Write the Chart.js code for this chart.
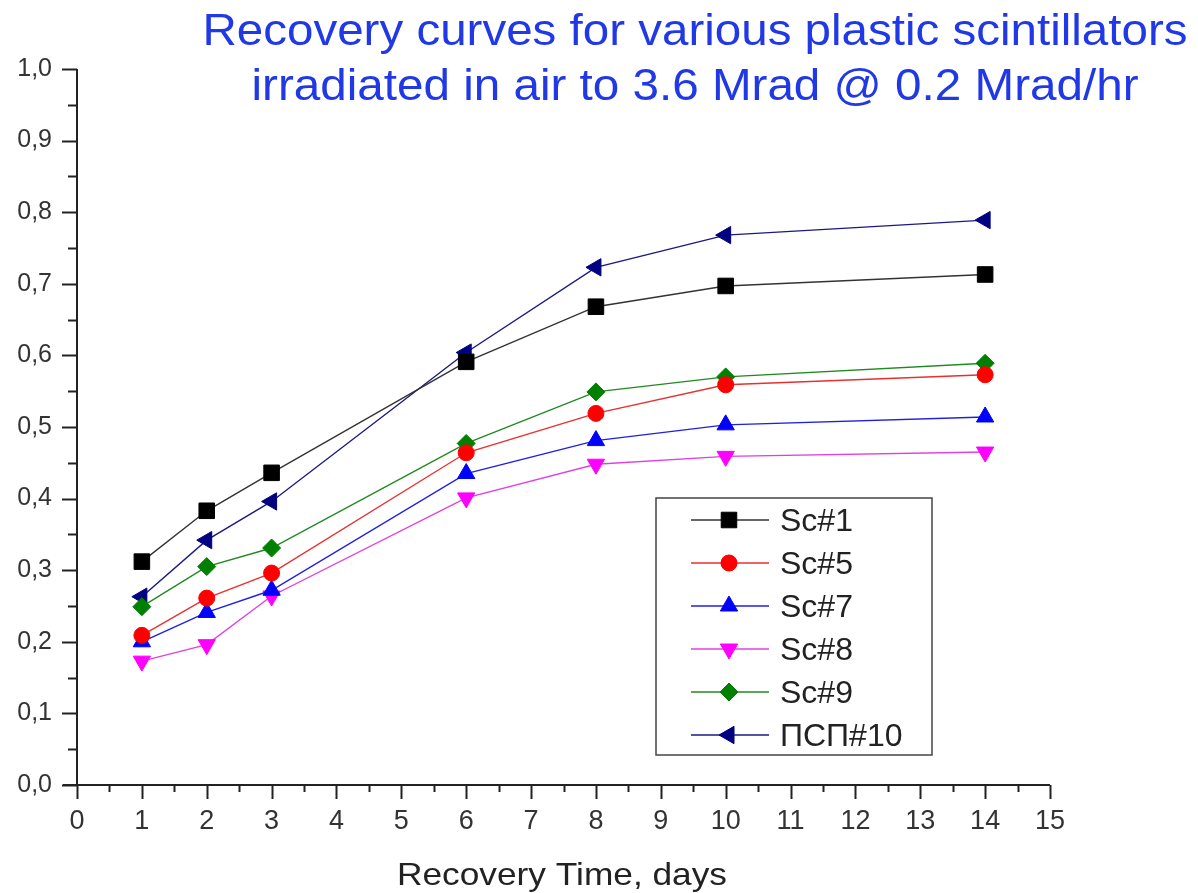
<!DOCTYPE html>
<html>
<head>
<meta charset="utf-8">
<script src="https://cdn.jsdelivr.net/npm/chart.js@4/dist/chart.umd.min.js"></script>
<style>
html,body{margin:0;padding:0;background:#fff;}
#wrap{width:1198px;height:893px;position:relative;}
</style>
</head>
<body>
<div id="wrap"><canvas id="c" width="1198" height="893"></canvas></div>
<script>
const days = [1, 2, 3, 6, 8, 10, 14];
const sc1 = [0.312, 0.383, 0.436, 0.591, 0.668, 0.697, 0.713];
const sc5 = [0.209, 0.261, 0.296, 0.464, 0.519, 0.559, 0.573];
const sc7 = [0.200, 0.241, 0.272, 0.435, 0.481, 0.503, 0.514];
const sc8 = [0.173, 0.196, 0.264, 0.401, 0.448, 0.459, 0.465];
const sc9 = [0.249, 0.305, 0.331, 0.477, 0.549, 0.570, 0.589];
const psp10 = [0.263, 0.342, 0.396, 0.604, 0.723, 0.768, 0.789];
const seriesNames = ['Sc#1', 'Sc#5', 'Sc#7', 'Sc#8', 'Sc#9', 'ПСП#10'];
const titleLines = ['Recovery curves for various plastic scintillators', 'irradiated in air to 3.6 Mrad @ 0.2 Mrad/hr'];
const xTitle = 'Recovery Time, days';
const yTicks = [0, 0.1, 0.2, 0.3, 0.4, 0.5, 0.6, 0.7, 0.8, 0.9, 1.0];
const xTicks = [0,1,2,3,4,5,6,7,8,9,10,11,12,13,14,15];

const FONT = '"Liberation Sans", Arial, Helvetica, sans-serif';

function mk(name, vals, color, lineColor, style, rot, radius) {
  return {
    label: name,
    data: days.map((d, i) => ({x: d, y: vals[i]})),
    borderColor: lineColor,
    backgroundColor: color,
    pointBackgroundColor: color,
    pointBorderColor: color,
    pointBorderWidth: 1,
    pointStyle: style,
    pointRotation: rot,
    pointRadius: radius,
    pointHoverRadius: radius,
    borderWidth: 1.4,
    tension: 0,
    fill: false
  };
}

const datasets = [
  mk(seriesNames[0], sc1, '#000000', '#333333', 'rect', 0, 11),
  mk(seriesNames[1], sc5, '#ff0000', '#e83030', 'circle', 0, 8),
  mk(seriesNames[2], sc7, '#0000ff', '#2020e0', 'triangle', 0, 10),
  mk(seriesNames[3], sc8, '#ff00ff', '#e040e0', 'triangle', 180, 10),
  mk(seriesNames[4], sc9, '#008000', '#208a20', 'rectRot', 0, 9),
  mk(seriesNames[5], psp10, '#000080', '#1a1a80', 'triangle', 270, 10)
];

const decor = {
  id: 'decor',
  afterDraw(chart) {
    const ctx = chart.ctx;
    const xs = chart.scales.x, ys = chart.scales.y;
    const ca = chart.chartArea;
    ctx.save();
    // axes lines
    ctx.strokeStyle = '#222';
    ctx.lineWidth = 2;
    ctx.beginPath();
    ctx.moveTo(ca.left, ca.top);
    ctx.lineTo(ca.left, ca.bottom);
    ctx.moveTo(ca.left - 14, ca.bottom);
    ctx.lineTo(ca.right, ca.bottom);
    ctx.stroke();
    // y ticks major + minor
    ctx.beginPath();
    for (let v = 0; v <= 20; v++) {
      const y = Math.round(ys.getPixelForValue(v * 0.05)) + 0.5;
      const len = (v % 2 === 0) ? 15 : 9;
      ctx.moveTo(ca.left - len, y);
      ctx.lineTo(ca.left, y);
    }
    // x ticks
    for (let v = 0; v <= 30; v++) {
      const x = Math.round(xs.getPixelForValue(v * 0.5)) + 0.5;
      const len = (v % 2 === 0) ? 14 : 7;
      ctx.moveTo(x, ca.bottom);
      ctx.lineTo(x, ca.bottom + len);
    }
    ctx.stroke();

    // title
    ctx.fillStyle = '#2038e6';
    ctx.font = '44px ' + FONT;
    ctx.textBaseline = 'alphabetic';
    ctx.textAlign = 'center';
    const targets = [985, 887];
    const bases = [45, 100];
    titleLines.forEach((t, i) => {
      const w = ctx.measureText(t).width;
      const sx = targets[i] / w;
      ctx.save();
      ctx.translate(695, bases[i]);
      ctx.scale(sx, 1);
      ctx.fillText(t, 0, 0);
      ctx.restore();
    });

    // x axis title
    ctx.fillStyle = '#222';
    ctx.font = '32px ' + FONT;
    {
      const w = ctx.measureText(xTitle).width;
      ctx.save();
      ctx.translate(562, 885);
      ctx.scale(330 / w, 1);
      ctx.fillText(xTitle, 0, 0);
      ctx.restore();
    }

    // legend
    const bx = 656, by = 498, bw = 276, bh = 257;
    ctx.fillStyle = '#fff';
    ctx.fillRect(bx, by, bw, bh);
    ctx.strokeStyle = '#444';
    ctx.lineWidth = 1.5;
    ctx.strokeRect(bx, by, bw, bh);
    ctx.textAlign = 'left';
    ctx.textBaseline = 'middle';
    ctx.font = '32px ' + FONT;
    chart.data.datasets.forEach((ds, i) => {
      const cy = 520 + i * 43;
      ctx.strokeStyle = ds.borderColor;
      ctx.lineWidth = 1.4;
      ctx.beginPath();
      ctx.moveTo(691, cy);
      ctx.lineTo(769, cy);
      ctx.stroke();
      ctx.fillStyle = ds.pointBackgroundColor;
      ctx.strokeStyle = ds.pointBorderColor;
      ctx.lineWidth = 1;
      Chart.helpers.drawPoint(ctx, {
        pointStyle: ds.pointStyle,
        rotation: ds.pointRotation,
        radius: ds.pointRadius,
        borderWidth: 1
      }, 729, cy);
      ctx.fillStyle = '#222';
      ctx.fillText(ds.label, 780, cy + 2);
    });
    ctx.restore();
  }
};

new Chart(document.getElementById('c'), {
  type: 'line',
  data: { datasets },
  options: {
    responsive: false,
    animation: false,
    layout: { padding: { top: 69, right: 148, left: 0, bottom: 0 } },
    plugins: { legend: { display: false }, tooltip: { enabled: false }, title: { display: false } },
    scales: {
      x: {
        type: 'linear', min: 0, max: 15,
        afterFit(s) { s.height = 108; },
        afterBuildTicks(s) { s.ticks = xTicks.map(v => ({value: v})); },
        grid: { display: false, drawTicks: false },
        border: { display: false },
        ticks: { color: '#333', padding: 20, font: { size: 27, family: FONT }, maxRotation: 0, autoSkip: false,
          callback: v => String(v) }
      },
      y: {
        type: 'linear', min: 0, max: 1,
        afterFit(s) { s.width = 77; },
        afterBuildTicks(s) { s.ticks = yTicks.map(v => ({value: v})); },
        grid: { display: false, drawTicks: false },
        border: { display: false },
        ticks: { color: '#333', padding: 25, font: { size: 25, family: FONT }, autoSkip: false,
          callback: v => v.toFixed(1).replace('.', ',') }
      }
    }
  },
  plugins: [decor]
});
</script>
</body>
</html>
